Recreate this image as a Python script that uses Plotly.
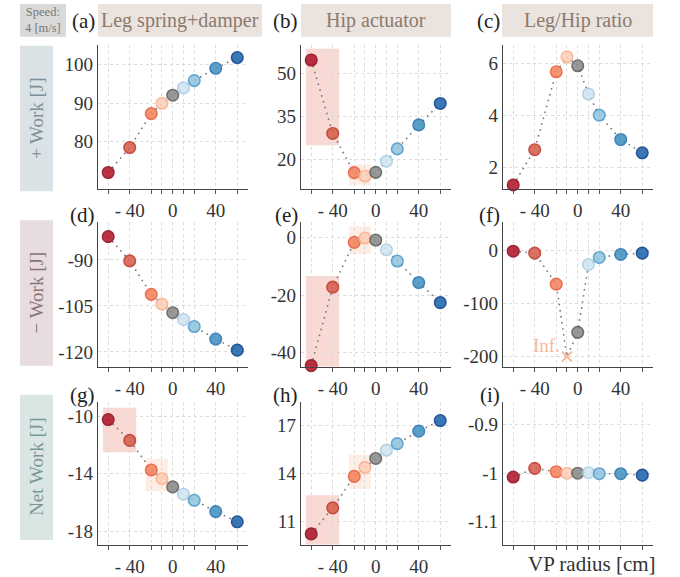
import plotly.graph_objects as go

W, H = 680, 577
FONT = "Liberation Serif"

# ---------------- data ----------------
vp_radius = [-60, -40, -20, -10, 0, 10, 20, 40, 60]
x_tick_vals = [-40, 0, 40]
x_tick_text = ["- 40", "0", "40"]

leg_pos = [72.0, 78.5, 87.3, 90.0, 92.1, 94.0, 95.9, 99.1, 101.9]
hip_pos = [54.8, 29.1, 15.4, 14.2, 15.5, 19.4, 23.7, 32.1, 39.6]
ratio_pos = [1.34, 2.69, 5.67, 6.24, 5.90, 4.82, 4.01, 3.08, 2.57]

leg_neg = [-82.4, -90.3, -101.2, -104.4, -107.2, -109.4, -111.7, -115.8, -119.4]
hip_neg = [-44.5, -17.2, -1.6, -0.1, -0.8, -4.2, -8.1, -15.6, -22.6]
ratio_neg = [-1.9, -5.6, -63.8, None, -154.4, -26.8, -13.7, -8.0, -5.6]  # None = Inf
ratio_neg_inf_shown = -200

leg_net = [-10.23, -11.68, -13.74, -14.35, -14.92, -15.43, -15.85, -16.64, -17.35]
hip_net = [10.23, 11.85, 13.81, 14.37, 14.93, 15.45, 15.85, 16.63, 17.29]
ratio_net = [-1.008, -0.990, -0.997, -1.0, -1.0, -0.999, -1.001, -1.001, -1.004]

panels = [
    [leg_pos, hip_pos, ratio_pos],
    [leg_neg, hip_neg, ratio_neg],
    [leg_net, hip_net, ratio_net],
]
panel_letters = [["(a)", "(b)", "(c)"], ["(d)", "(e)", "(f)"], ["(g)", "(h)", "(i)"]]
col_titles = ["Leg spring+damper", "Hip actuator", "Leg/Hip ratio"]
row_titles = ["+ Work [J]", "− Work [J]", "Net Work [J]"]

y_ranges = [
    [[67.8, 105.2], [9.8, 60.1], [1.2, 6.7]],
    [[-124.8, -77.7], [-44.9, 5.4], [-219, 52.5]],
    [[-18.95, -8.98], [9.55, 18.47], [-1.148, -0.852]],
]
y_ticks = [
    [[80, 90, 100], [20, 35, 50], [2, 4, 6]],
    [[-120, -105, -90], [-40, -20, 0], [-200, -100, 0]],
    [[-18, -14, -10], [11, 14, 17], [-1.1, -1, -0.9]],
]
y_ticktext = [
    [["80", "90", "100"], ["20", "35", "50"], ["2", "4", "6"]],
    [["-120", "-105", "-90"], ["-40", "-20", "0"], ["-200", "-100", "0"]],
    [["-18", "-14", "-10"], ["11", "14", "17"], ["-1.1", "-1", "-0.9"]],
]

# highlight spans (row, col): (x0, x1, y0, y1)
strong_boxes = {
    (0, 1): (-65, -34, 25.0, 58.7),
    (1, 1): (-65, -34, -44.9, -13.3),
    (2, 0): (-65, -34, -12.5, -9.4),
    (2, 1): (-65, -34, 9.55, 12.63),
}
light_boxes = {
    (0, 1): (-25, -4.5, 11.0, 18.3),
    (1, 1): (-25, -4.5, -5.7, 4.0),
    (2, 0): (-25, -4.5, -15.23, -12.96),
    (2, 1): (-25, -4.5, 13.02, 15.16),
}

fill_colors = ["#b2182b", "#d6604d", "#f4845f", "#fdd0b8", "#8a8a8a",
               "#d1e5f0", "#92c5de", "#4393c3", "#2166ac"]
edge_colors = ["#8e0c1f", "#c0392b", "#e8603c", "#f8b08e", "#5e5e5e",
               "#a9cde4", "#4d9bcb", "#2b75b0", "#0b3f8a"]

# ---------------- layout geometry (pixels) ----------------
col_px = [(98, 248), (301, 451), (503, 653)]
row_px = [(45, 189.3), (223, 368), (403, 546.7)]


def px(x):
    return x / W


def py(y):
    return 1 - y / H


fig = go.Figure()
shapes = []
annotations = []

for r in range(3):
    for c in range(3):
        idx = r * 3 + c + 1
        xa = "x" if idx == 1 else f"x{idx}"
        ya = "y" if idx == 1 else f"y{idx}"
        xkey = "xaxis" if idx == 1 else f"xaxis{idx}"
        ykey = "yaxis" if idx == 1 else f"yaxis{idx}"
        vals = panels[r][c]
        is_inf_panel = (r == 1 and c == 2)
        line_vals = [ratio_neg_inf_shown if (v is None and is_inf_panel) else v for v in vals]

        # dotted connecting line
        fig.add_trace(go.Scatter(
            x=vp_radius, y=line_vals, mode="lines", xaxis=xa, yaxis=ya,
            line=dict(color="#7a7a7a", width=1.6, dash="1.6px,4.5px"),
            showlegend=False, hoverinfo="skip", cliponaxis=False))
        # markers
        mx = [x for x, v in zip(vp_radius, vals) if v is not None]
        my = [v for v in vals if v is not None]
        mf = [f for f, v in zip(fill_colors, vals) if v is not None]
        me = [e for e, v in zip(edge_colors, vals) if v is not None]
        fig.add_trace(go.Scatter(
            x=mx, y=my, mode="markers", xaxis=xa, yaxis=ya,
            marker=dict(size=11.5, color=mf, opacity=0.88,
                        line=dict(color=me, width=1.6)),
            showlegend=False, cliponaxis=False))
        if is_inf_panel:
            inf_x = [x for x, v in zip(vp_radius, vals) if v is None]
            fig.add_trace(go.Scatter(
                x=inf_x, y=[ratio_neg_inf_shown] * len(inf_x), mode="markers",
                xaxis=xa, yaxis=ya,
                marker=dict(symbol="x-thin", size=10, color="#f7b89a",
                            line=dict(color="#f7b89a", width=2)),
                showlegend=False, cliponaxis=False))
            annotations.append(dict(
                x=inf_x[0] - 5, y=ratio_neg_inf_shown + 20, xref=xa, yref=ya,
                text="Inf.", showarrow=False, xanchor="right", yanchor="middle",
                font=dict(family=FONT, size=19, color="#f7b89a")))

        x0, x1 = col_px[c]
        y0, y1 = row_px[r]
        show_xlabels = not (r == 2 and c == 2)
        fig.layout[xkey] = dict(
            domain=[px(x0), px(x1)], range=[-69.5, 70], anchor=ya,
            tickmode="array", tickvals=vp_radius,
            ticktext=[x_tick_text[x_tick_vals.index(v)] if v in x_tick_vals else "" for v in vp_radius],
            showticklabels=show_xlabels,
            ticks="outside", ticklen=4, tickwidth=1, tickcolor="#555555",
            showgrid=True, gridcolor="#dcdcdc", griddash="dot", gridwidth=1,
            showline=True, linecolor="#444444", linewidth=1.3,
            zeroline=False, tickfont=dict(family=FONT, size=19, color="#333333"),
            fixedrange=True)
        fig.layout[ykey] = dict(
            domain=[py(y1), py(y0)], range=y_ranges[r][c], anchor=xa,
            tickmode="array", tickvals=y_ticks[r][c], ticktext=y_ticktext[r][c],
            ticks="", showgrid=True, gridcolor="#dcdcdc", griddash="dot", gridwidth=1,
            showline=True, linecolor="#444444", linewidth=1.3,
            zeroline=False, tickfont=dict(family=FONT, size=19, color="#333333"),
            fixedrange=True)

        for boxes, color in ((strong_boxes, "rgba(240,170,160,0.45)"),
                             (light_boxes, "rgba(252,215,195,0.45)")):
            if (r, c) in boxes:
                bx0, bx1, by0, by1 = boxes[(r, c)]
                shapes.append(dict(type="rect", xref=xa, yref=ya,
                                   x0=bx0, x1=bx1, y0=by0, y1=by1,
                                   fillcolor=color, line=dict(width=0), layer="below"))

        # panel letters
        letter_y = 21 if r == 0 else (y0 - 7)
        annotations.append(dict(
            x=px(x0 - 1), y=py(letter_y), xref="paper", yref="paper",
            text=panel_letters[r][c], showarrow=False, xanchor="right", yanchor="middle",
            font=dict(family=FONT, size=21, color="#222222")))

# column title boxes
title_box_px = [(98, 262), (301, 451), (502, 653)]
for (bx0, bx1), t in zip(title_box_px, col_titles):
    shapes.append(dict(type="rect", xref="paper", yref="paper",
                       x0=px(bx0), x1=px(bx1), y0=py(37), y1=py(4),
                       fillcolor="#ebe3de", line=dict(width=0), layer="below"))
    annotations.append(dict(x=px((bx0 + bx1) / 2), y=py(21), xref="paper", yref="paper",
                            text=t, showarrow=False, xanchor="center", yanchor="middle",
                            font=dict(family=FONT, size=20, color="#8c7a6e")))

# speed box
shapes.append(dict(type="rect", xref="paper", yref="paper",
                   x0=px(20), x1=px(66), y0=py(37), y1=py(4),
                   fillcolor="#d9d9d9", line=dict(width=0), layer="below"))
annotations.append(dict(x=px(43), y=py(20.5), xref="paper", yref="paper",
                        text="Speed:<br>4 [m/s]", showarrow=False,
                        xanchor="center", yanchor="middle",
                        font=dict(family=FONT, size=12.5, color="#777777")))

# row title boxes
row_box_px = [(46, 192), (221, 367), (396, 542)]
row_box_colors = ["#dae2e5", "#e7dddf", "#dae6e4"]
row_text_colors = ["#7d9099", "#8c7377", "#7a9893"]
for (by0, by1), t, bc, tc in zip(row_box_px, row_titles, row_box_colors, row_text_colors):
    shapes.append(dict(type="rect", xref="paper", yref="paper",
                       x0=px(20), x1=px(53), y0=py(by1), y1=py(by0),
                       fillcolor=bc, line=dict(width=0), layer="below"))
    annotations.append(dict(x=px(36.5), y=py((by0 + by1) / 2), xref="paper", yref="paper",
                            text=t, showarrow=False, textangle=-90,
                            xanchor="center", yanchor="middle",
                            font=dict(family=FONT, size=19, color=tc)))

# x axis title
annotations.append(dict(x=px(658), y=py(566), xref="paper", yref="paper",
                        text="VP radius [cm]", showarrow=False,
                        xanchor="right", yanchor="middle",
                        font=dict(family=FONT, size=21, color="#333333")))

fig.update_layout(
    width=W, height=H, margin=dict(l=0, r=0, t=0, b=0),
    paper_bgcolor="white", plot_bgcolor="white",
    shapes=shapes, annotations=annotations, showlegend=False,
)

fig.write_html("out.html", config={"displayModeBar": False},
               post_script="document.body.style.margin='0';document.body.style.padding='0';")
